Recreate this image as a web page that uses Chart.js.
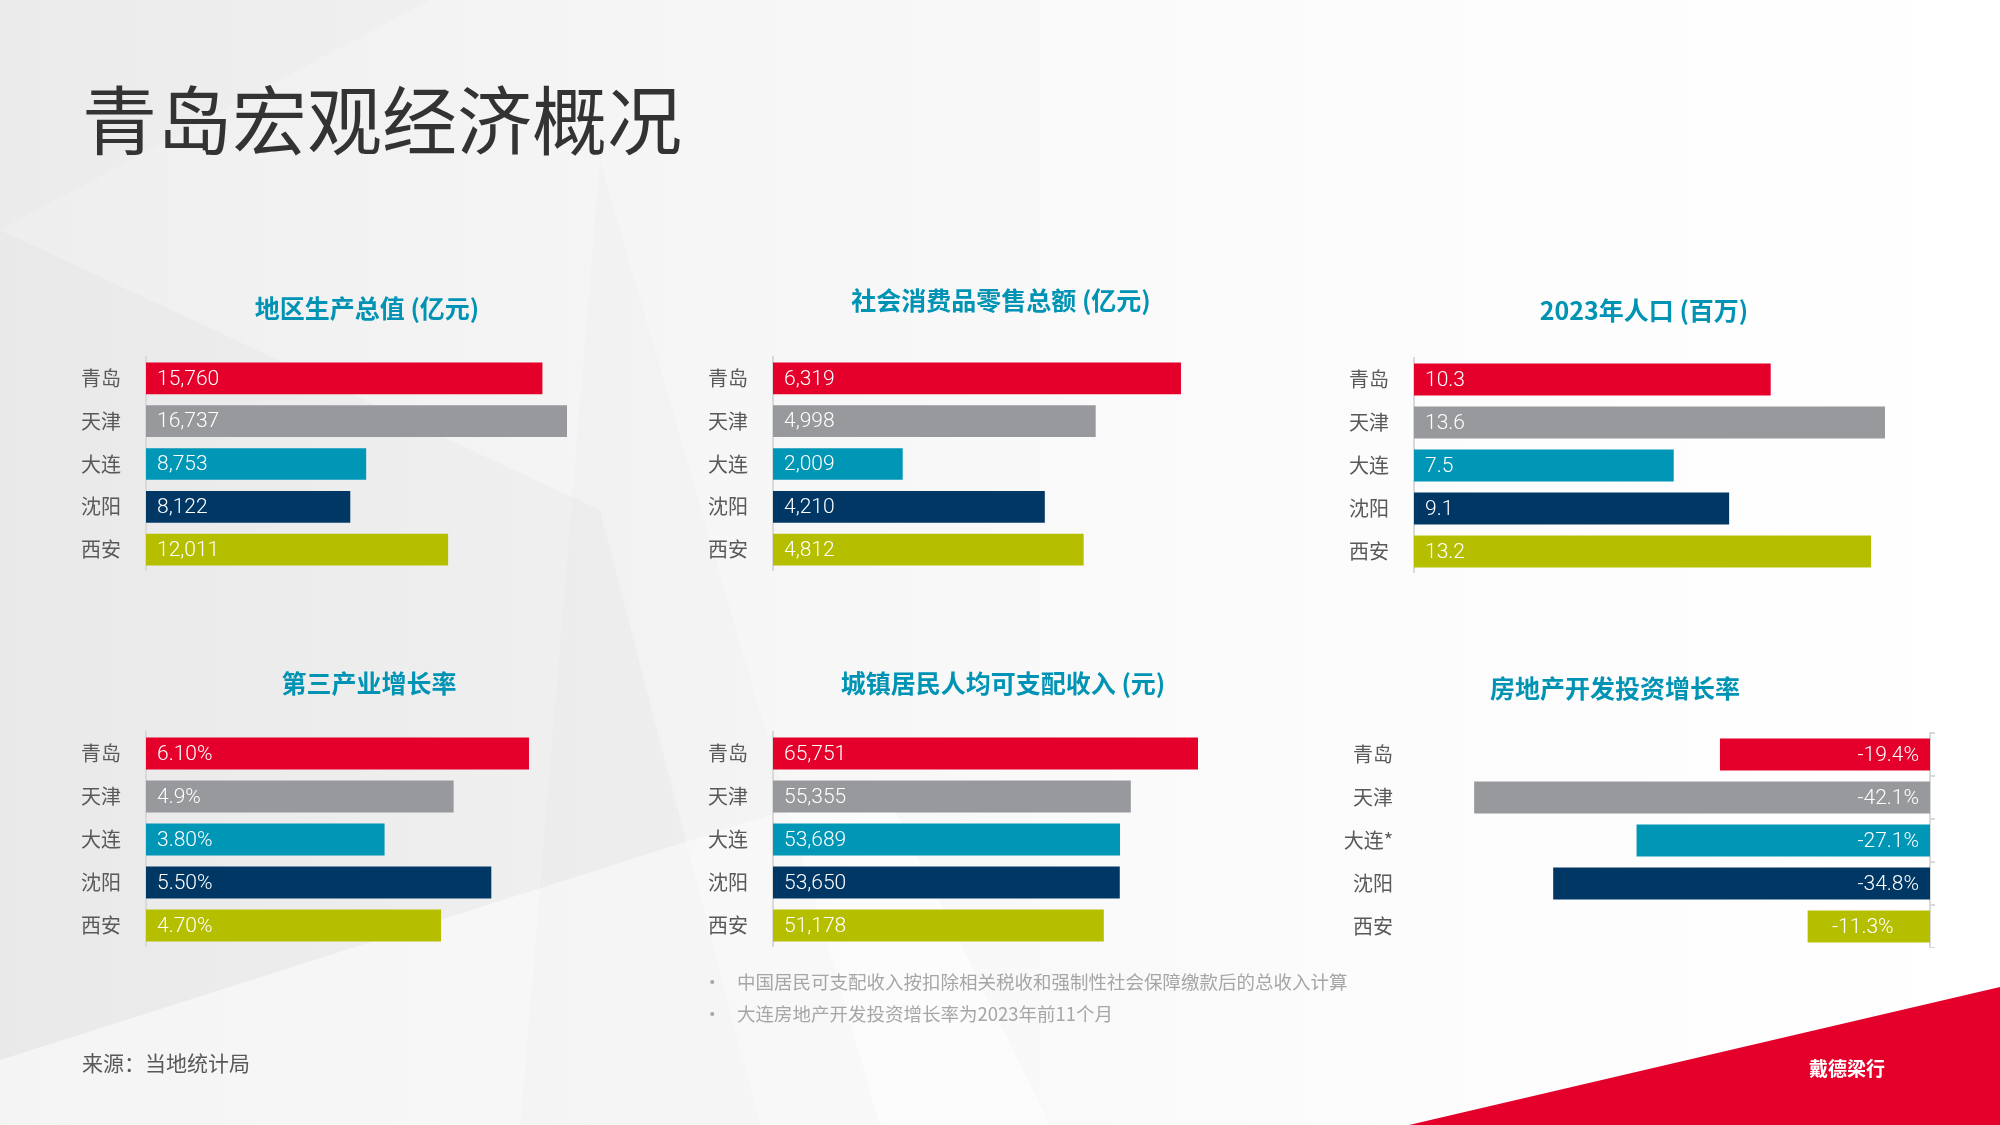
<!DOCTYPE html>
<html>
<head>
<meta charset="utf-8">
<script src="https://cdn.jsdelivr.net/npm/chart.js@4.4.1/dist/chart.umd.min.js"></script>
<style>
  body { margin: 0; width: 2000px; height: 1125px; overflow: hidden; position: relative; background: #fff;
         font-family: "Noto Sans CJK SC", sans-serif; }
  canvas { position: absolute; }
  .txt { position: absolute; white-space: nowrap; }
  #pageTitle { left: 82px; top: 79px; font-size: 75px; line-height: 75px; color: #333; }
  .note { font-size: 18.5px; line-height: 19px; color: #a6a6a6; }
  #source { left: 82px; top: 1052px; font-size: 21px; line-height: 21px; color: #595959; }
  #logo { left: 1809px; top: 1058px; font-size: 19px; line-height: 19px; color: #fff; font-weight: 700; }
</style>
</head>
<body>
<canvas id="bg" width="2000" height="1125"></canvas>

<div id="pageTitle" class="txt">青岛宏观经济概况</div>
<div class="txt note" style="left:703px;top:972px">•</div>
<div class="txt note" style="left:737px;top:972px">中国居民可支配收入按扣除相关税收和强制性社会保障缴款后的总收入计算</div>
<div class="txt note" style="left:703px;top:1004px">•</div>
<div class="txt note" style="left:737px;top:1004px">大连房地产开发投资增长率为2023年前11个月</div>
<div id="source" class="txt">来源：当地统计局</div>
<div id="logo" class="txt">戴德梁行</div>

<script>
// ---- data ----
const cities = ['青岛', '天津', '大连', '沈阳', '西安'];
const citiesRealEstate = ['青岛', '天津', '大连*', '沈阳', '西安'];
const cityColors = ['#e4002b', '#97999c', '#0096b6', '#003764', '#b5bf00'];

const gdp = [15760, 16737, 8753, 8122, 12011];            // 亿元
const retailSales = [6319, 4998, 2009, 4210, 4812];        // 亿元
const population = [10.3, 13.6, 7.5, 9.1, 13.2];           // 百万
const tertiaryGrowth = [6.1, 4.9, 3.8, 5.5, 4.7];          // %
const tertiaryText = ['6.10%', '4.9%', '3.80%', '5.50%', '4.70%'];
const income = [65751, 55355, 53689, 53650, 51178];        // 元
const realEstateGrowth = [-19.4, -42.1, -27.1, -34.8, -11.3]; // %

const TEAL = '#0093b4';
const AXIS_GREY = '#d9d9d9';

// ---- background ----
const bg = document.getElementById('bg').getContext('2d');
const grad = bg.createLinearGradient(0, 0, 2000, 0);
grad.addColorStop(0, '#eeeeee');
grad.addColorStop(0.35, '#f6f6f6');
grad.addColorStop(0.7, '#fcfcfc');
grad.addColorStop(1, '#ffffff');
bg.fillStyle = grad;
bg.fillRect(0, 0, 2000, 1125);

function poly(pts, color) {
  bg.beginPath();
  bg.moveTo(pts[0][0], pts[0][1]);
  pts.slice(1).forEach(p => bg.lineTo(p[0], p[1]));
  bg.closePath();
  bg.fillStyle = color;
  bg.fill();
}
poly([[0, 0], [430, 0], [0, 230]], 'rgba(0,0,0,0.012)');
poly([[0, 230], [600, 510], [760, 1125], [0, 1125]], 'rgba(0,0,0,0.02)');
poly([[0, 1060], [880, 780], [1050, 1125], [0, 1125]], 'rgba(255,255,255,0.5)');
poly([[600, 160], [880, 1125], [520, 1125]], 'rgba(0,0,0,0.012)');
poly([[1409, 1125], [2000, 987], [2000, 1125]], '#e4002b');

// ---- charts ----
const barValueLabels = {
  id: 'barValueLabels',
  afterDatasetsDraw(chart, args, opts) {
    const { ctx } = chart;
    const values = chart.data.datasets[0].data;
    ctx.save();
    ctx.font = '300 21px Roboto';
    ctx.fillStyle = '#ffffff';
    ctx.textBaseline = 'middle';
    chart.getDatasetMeta(0).data.forEach((bar, i) => {
      const text = opts.format(values[i], i);
      const x0 = Math.min(bar.x, bar.base);
      const x1 = Math.max(bar.x, bar.base);
      if (opts.anchor === 'end') {
        if (x1 - x0 > 150) {
          ctx.textAlign = 'right';
          ctx.fillText(text, x1 - 11, bar.y + 1);
        } else {
          ctx.textAlign = 'center';
          ctx.fillText(text, (x0 + x1) / 2 - 6, bar.y + 1);
        }
      } else {
        ctx.textAlign = 'left';
        ctx.fillText(text, x0 + 11, bar.y + 1);
      }
    });
    ctx.restore();
  }
};

const thousands = v => v.toLocaleString('en-US');

const panels = [
  { title: '地区生产总值 (亿元)', labels: cities, data: gdp, format: thousands,
    left: 80, top: 293, width: 574, height: 278, axisW: 66, gap: 34, min: 0, max: 20196 },
  { title: '社会消费品零售总额 (亿元)', labels: cities, data: retailSales, format: thousands,
    left: 707, top: 285, width: 588, height: 286, axisW: 66, gap: 42, min: 0, max: 8085 },
  { title: '2023年人口 (百万)', labels: cities, data: population, format: v => v.toFixed(1),
    left: 1349, top: 295, width: 590, height: 278, axisW: 65, gap: 33, min: 0, max: 15.16 },
  { title: '第三产业增长率', labels: cities, data: tertiaryGrowth, format: (v, i) => tertiaryText[i],
    left: 80, top: 668, width: 578, height: 279, axisW: 66, gap: 34, min: 0, max: 8.155 },
  { title: '城镇居民人均可支配收入 (元)', labels: cities, data: income, format: thousands,
    left: 707, top: 668, width: 592, height: 279, axisW: 66, gap: 34, min: 0, max: 81377 },
  { title: '房地产开发投资增长率', labels: citiesRealEstate, data: realEstateGrowth, format: v => v.toFixed(1) + '%',
    left: 1292, top: 673, width: 646, height: 275, axisW: 128, gap: 30, min: -47.1, max: 0,
    negative: true, tickPad: 27 }
];

Chart.defaults.font.family = '"Noto Sans CJK SC", sans-serif';

function noPad(s) { s.paddingTop = 0; s.paddingBottom = 0; s.paddingLeft = 0; s.paddingRight = 0; }

panels.forEach(p => {
  const cv = document.createElement('canvas');
  cv.width = p.width;
  cv.height = p.height;
  cv.style.left = p.left + 'px';
  cv.style.top = p.top + 'px';
  document.body.insertBefore(cv, document.getElementById('pageTitle'));

  const scales = {
    x: {
      display: false, min: p.min, max: p.max,
      ticks: { display: false },
      afterFit: noPad
    },
    y: {
      offset: true,
      grid: { display: false, drawTicks: false },
      border: { display: !p.negative, color: AXIS_GREY, width: 2 },
      ticks: { color: '#595959', font: { size: 20 }, padding: p.tickPad || 25, crossAlign: 'near' },
      afterFit: s => { s.width = p.axisW; noPad(s); }
    }
  };
  if (p.negative) {
    scales.y2 = {
      type: 'category', position: 'right', offset: true,
      grid: { offset: true, drawOnChartArea: false, tickLength: 5, color: AXIS_GREY, lineWidth: 2 },
      border: { display: true, color: AXIS_GREY, width: 2 },
      ticks: { display: false },
      afterFit: s => { s.width = 8; noPad(s); }
    };
  }

  new Chart(cv, {
    type: 'bar',
    data: {
      labels: p.labels,
      datasets: [{
        data: p.data,
        backgroundColor: cityColors,
        borderWidth: 0,
        barPercentage: 0.74,
        categoryPercentage: 1
      }]
    },
    options: {
      indexAxis: 'y',
      responsive: false,
      animation: false,
      layout: { padding: 0 },
      scales,
      plugins: {
        legend: { display: false },
        tooltip: { enabled: false },
        title: {
          display: true,
          text: p.title,
          color: TEAL,
          font: { size: 25, weight: 'bold', lineHeight: 1.2 },
          padding: { top: 0, bottom: p.gap }
        },
        barValueLabels: { format: p.format, anchor: p.negative ? 'end' : 'start' }
      }
    },
    plugins: [barValueLabels]
  });
});
</script>
</body>
</html>
